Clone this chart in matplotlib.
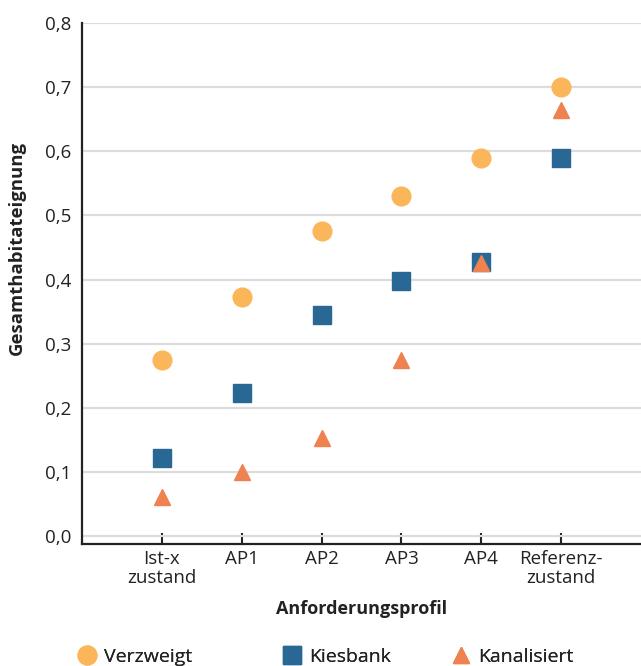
import numpy as np
import matplotlib.pyplot as plt

plt.rcParams['font.family'] = ['Open Sans', 'DejaVu Sans']

# data
profiles = ['Ist-x\nzustand', 'AP1', 'AP2', 'AP3', 'AP4', 'Referenz-\nzustand']
verzweigt = [0.274, 0.373, 0.476, 0.530, 0.590, 0.700]
kiesbank = [0.122, 0.223, 0.345, 0.398, 0.427, 0.589]
kanalisiert = [0.062, 0.100, 0.154, 0.274, 0.426, 0.664]
series_names = ['Verzweigt', 'Kiesbank', 'Kanalisiert']
y_ticks = [0.0, 0.1, 0.2, 0.3, 0.4, 0.5, 0.6, 0.7, 0.8]

c_orange = '#FBB65A'
c_blue = '#296895'
c_coral = '#EE8251'

fig = plt.figure(figsize=(6.41, 6.66), dpi=100)
ax = fig.add_axes([0.128, 0.183, 0.872, 0.783])

x = np.arange(1, len(profiles) + 1)
h1, = ax.plot(x, verzweigt, 'o', ms=13.5, color=c_orange, label=series_names[0], zorder=3)
h2, = ax.plot(x, kiesbank, 's', ms=13.5, color=c_blue, label=series_names[1], zorder=3)
h3, = ax.plot(x, kanalisiert, '^', ms=12, color=c_coral, label=series_names[2], zorder=4)

ax.set_xlim(0, 7)
ax.set_ylim(-0.012, 0.8)
ax.set_xticks(x)
ax.set_xticklabels(profiles, fontsize=13.5, color='#222222', linespacing=1.1)
ax.set_yticks(y_ticks)
ax.set_yticklabels(['{:.1f}'.format(v).replace('.', ',') for v in y_ticks],
                   fontsize=13.5, color='#222222')

ax.tick_params(axis='x', direction='in', length=8, width=1.5, color='#222222', pad=4)
ax.tick_params(axis='y', length=0, pad=8)

ax.grid(axis='y', color='#DCDCDC', linewidth=1.6)
ax.set_axisbelow(True)
for s in ['top', 'right']:
    ax.spines[s].set_visible(False)
for s in ['left', 'bottom']:
    ax.spines[s].set_color('#222222')
    ax.spines[s].set_linewidth(1.6)
ax.spines['bottom'].set_zorder(5)

ax.set_xlabel('Anforderungsprofil', fontsize=13, fontweight='bold', color='#222222')
ax.xaxis.set_label_coords(0.5, -0.108)
ax.set_ylabel('Gesamthabitateignung', fontsize=13.3, fontweight='bold', color='#222222')
ax.yaxis.set_label_coords(-0.1, 0.567)

# one legend per entry so each sits where the reference puts it
for h, xpos in zip([h1, h2, h3], [0.117, 0.437, 0.701]):
    leg = fig.legend(handles=[h], loc='center left', bbox_to_anchor=(xpos, 0.0135),
                     frameon=False, fontsize=14, handletextpad=0.3,
                     handlelength=1.2, borderaxespad=0, borderpad=0,
                     labelcolor='#222222')
    fig.add_artist(leg)

fig.savefig('out.png', dpi=100)
